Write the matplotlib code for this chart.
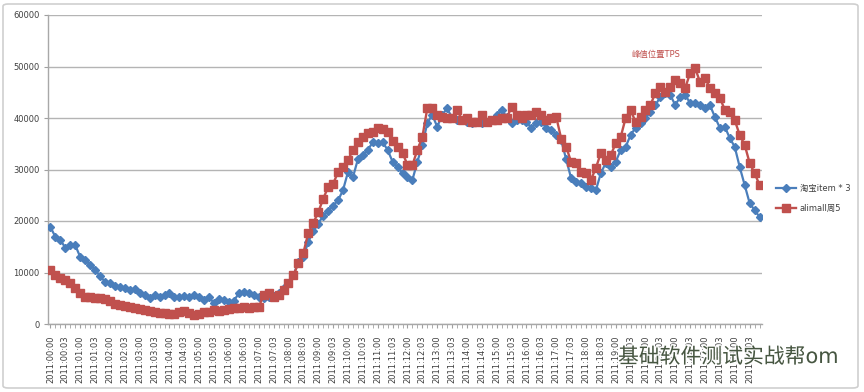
import matplotlib
matplotlib.use("Agg")
import matplotlib.pyplot as plt
import numpy as np
from matplotlib.patches import FancyBboxPatch
import matplotlib.patheffects as pe

plt.rcParams['font.family'] = ['DejaVu Sans', 'Noto Sans CJK SC']

series_names = ["淘宝item * 3", "alimall周5"]

taobao = [18800, 16900, 16300, 14800, 15300, 15300, 13000, 12400, 11500, 10500,
          9300, 8200, 8000, 7400, 7200, 7000, 6600, 6800, 6000, 5600,
          5000, 5600, 5200, 5600, 6000, 5200, 5200, 5400, 5200, 5600,
          5200, 4700, 5200, 4000, 4800, 4600, 4300, 4500, 6000, 6200,
          6000, 5600, 5200, 5000, 5300, 5500, 6000, 7000, 8000, 9500,
          12000, 13000, 16000, 18000, 19500, 21000, 22000, 23000, 24000, 26000,
          29500, 28500, 32000, 32800, 33800, 35300, 35100, 35300, 33800, 31500,
          30500, 29300, 28500, 28000, 31500, 34800, 39000, 40600, 38300, 40600,
          41900, 40000, 39600, 39600, 39200, 39000, 39200, 39000, 39200, 39600,
          40600, 41600, 40200, 39000, 39600, 39600, 39200, 38100, 39000, 39200,
          38100, 37700, 36700, 35700, 32000, 28300, 27600, 27400, 26600, 26400,
          26000, 29300, 31300, 30500, 31500, 33800, 34400, 36700, 38100, 39000,
          40000, 41200, 42500, 44100, 44900, 44500, 42500, 44100, 44500, 42900,
          42900, 42500, 41900, 42500, 40200, 38100, 38300, 36100, 34400, 30500,
          27000, 23500, 22100, 20800]

alimall = [10500, 9500, 9000, 8600, 8000, 7000, 6000, 5300, 5200, 5000,
           5000, 4900, 4400, 3800, 3600, 3500, 3300, 3200, 3000, 2700,
           2500, 2400, 2200, 2100, 2000, 1900, 2300, 2600, 2100, 1800,
           1900, 2300, 2300, 2700, 2600, 2700, 2900, 3100, 3100, 3300,
           3200, 3300, 3300, 5600, 6000, 5200, 5600, 6600, 8000, 9500,
           11800, 13800, 17700, 19600, 21700, 24300, 26600, 27200, 29500, 30500,
           31800, 33800, 35300, 36300, 37100, 37300, 38000, 37900, 37300, 35500,
           34300, 33200, 30900, 30900, 33800, 36300, 41900, 41900, 40600, 40200,
           40000, 40000, 41600, 39600, 40000, 39200, 39200, 40600, 39200, 39600,
           39600, 40000, 40000, 42100, 40600, 40000, 40600, 40600, 41200, 40600,
           39600, 40000, 40200, 36000, 34400, 31500, 31300, 29500, 29300, 28000,
           30300, 33200, 31800, 32800, 35100, 36300, 40000, 41600, 39200, 40200,
           41600, 42500, 44900, 46000, 45000, 46000, 47400, 46800, 45800, 48700,
           49700, 47000, 47800, 45800, 44900, 43900, 41600, 41200, 39600, 36700,
           34800, 31300, 29300, 27000]

tick_labels = ["2011:00:00", "2011:00:03", "2011:01:00", "2011:01:03", "2011:02:00", "2011:02:03",
               "2011:03:00", "2011:03:03", "2011:04:00", "2011:04:03", "2011:05:00", "2011:05:03",
               "2011:06:00", "2011:06:03", "2011:07:00", "2011:07:03", "2011:08:00", "2011:08:03",
               "2011:09:00", "2011:09:03", "2011:10:00", "2011:10:03", "2011:11:00", "2011:11:03",
               "2011:12:00", "2011:12:03", "2011:13:00", "2011:13:03", "2011:14:00", "2011:14:03",
               "2011:15:00", "2011:15:03", "2011:16:00", "2011:16:03", "2011:17:00", "2011:17:03",
               "2011:18:00", "2011:18:03", "2011:19:00", "2011:19:03", "2011:20:00", "2011:20:03",
               "2011:21:00", "2011:21:03", "2011:22:00", "2011:22:03", "2011:23:00", "2011:23:03"]

y_ticks = [0, 10000, 20000, 30000, 40000, 50000, 60000]
annotation_text = "峰值位置TPS"
watermark_text = "基础软件测试实战帮om"

W, H = 864, 392
fig = plt.figure(figsize=(W / 100, H / 100), dpi=100)
fig.patch.set_facecolor('white')

# outer chart border
border = FancyBboxPatch((3 / W, 4 / H), (858 - 3) / W, (388 - 4) / H,
                        boxstyle="round,pad=0,rounding_size=0.006",
                        transform=fig.transFigure, facecolor='none',
                        edgecolor='#cfcfcf', linewidth=1.2)
fig.patches.append(border)

ax = fig.add_axes([48 / W, 1 - 324 / H, (762 - 48) / W, (324 - 15) / H])
x = np.arange(len(taobao))

ax.plot(x, taobao, color='#4a7ebb', linewidth=1.6, marker='D', markersize=3.6,
        markerfacecolor='#4a7ebb', markeredgecolor='#4a7ebb', label=series_names[0], zorder=3)
ax.plot(x, alimall, color='#c0504d', linewidth=1.7, marker='s', markersize=5.4,
        markerfacecolor='#c0504d', markeredgecolor='#c0504d', label=series_names[1], zorder=4)

ax.set_xlim(-0.5, len(taobao) - 0.5)
ax.set_ylim(0, 60000)
ax.set_yticks(y_ticks)
ax.set_yticklabels([str(v) for v in y_ticks], fontsize=6, color='#404040')
ax.yaxis.grid(True, color='#b4b4b4', linewidth=1.0)
ax.set_axisbelow(True)

label_pos = np.arange(0, len(taobao), 3)
ax.set_xticks(label_pos)
ax.set_xticklabels(tick_labels, rotation=90, fontsize=6, color='#404040')
ax.set_xticks(np.arange(len(taobao)), minor=True)
ax.tick_params(axis='x', which='both', direction='out', length=3, color='#a0a0a0', pad=5)
ax.tick_params(axis='y', which='major', direction='out', length=3, color='#a0a0a0', pad=3)

for s in ['top', 'right']:
    ax.spines[s].set_visible(False)
for s in ['left', 'bottom']:
    ax.spines[s].set_color('#a8a8a8')
    ax.spines[s].set_linewidth(1.0)

ax.text(656 / W, 1 - 55 / H, annotation_text, transform=fig.transFigure,
        ha='center', va='center', fontsize=6, color='#c0504d')

leg = fig.legend(loc='upper left', bbox_to_anchor=(772 / W, 1 - 180 / H), frameon=False,
                 fontsize=6, handlelength=2.4, labelspacing=1.3, borderpad=0,
                 handletextpad=0.4, labelcolor='#404040')

fig.text(618 / W, 1 - 357 / H, watermark_text, fontsize=15, color='#34452e',
         ha='left', va='center', alpha=0.9,
         path_effects=[pe.withStroke(linewidth=2, foreground='white')])

fig.savefig('out.png', dpi=100, facecolor='white')
